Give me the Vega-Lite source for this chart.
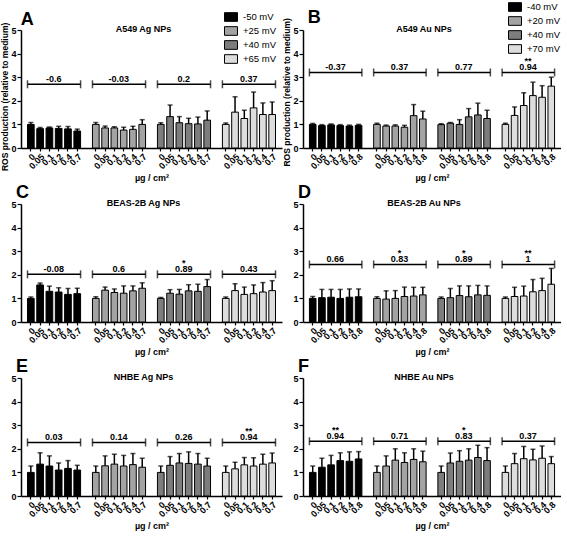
{
  "$schema": "https://vega.github.io/schema/vega-lite/v6.json",
  "padding": {"left": 1, "top": 2, "right": 0, "bottom": 0},
  "background": "white",
  "columns": 2,
  "spacing": {"row": 0, "column": 1},
  "resolve": {"scale": {"color": "independent"}, "legend": {"color": "independent"}},
  "config": {
    "view": {"stroke": null},
    "font": "Liberation Sans",
    "axis": {"domainColor": "#000", "domainWidth": 1.5, "tickColor": "#000", "tickWidth": 1.2, "labelColor": "#000", "labelFontWeight": "bold", "titleColor": "#000", "titleFontWeight": "bold", "grid": false, "labelFont": "Liberation Sans", "titleFont": "Liberation Sans"},
    "axisY": {"tickSize": 4, "labelFontSize": 9, "labelPadding": 1, "titleFontSize": 8.5, "titlePadding": 1, "labelOverlap": false, "labelFlush": false},
    "axisX": {"tickSize": 3, "labelFontSize": 9, "labelAngle": -45, "labelAlign": "right", "labelBaseline": "top", "labelPadding": 1, "titleFontSize": 9, "titlePadding": 3, "labelOverlap": false, "labelBound": false},
    "title": {"fontSize": 18, "fontWeight": "bold", "anchor": "start", "frame": "group", "color": "#000", "offset": -3, "font": "Liberation Sans"},
    "legend": {"orient": "none", "padding": 0, "symbolType": "M-1.5,-1H1.5V1H-1.5Z", "symbolSize": 75, "symbolStrokeColor": "#000", "symbolStrokeWidth": 1, "labelFontSize": 9.5, "labelFont": "Liberation Sans", "labelColor": "#000", "rowPadding": 0, "labelOffset": 7},
    "text": {"font": "Liberation Sans", "fontWeight": "bold", "fontSize": 9, "color": "#000"}
  },
  "datasets": {
    "bars": [
      {"p":"A","zeta":"-50 mV","slot":"1|0","value":1.0,"upper":1.08},
      {"p":"A","zeta":"-50 mV","slot":"1|0.05","value":0.82,"upper":0.87},
      {"p":"A","zeta":"-50 mV","slot":"1|0.1","value":0.85,"upper":0.89},
      {"p":"A","zeta":"-50 mV","slot":"1|0.2","value":0.83,"upper":0.92},
      {"p":"A","zeta":"-50 mV","slot":"1|0.4","value":0.81,"upper":0.91},
      {"p":"A","zeta":"-50 mV","slot":"1|0.7","value":0.72,"upper":0.8},
      {"p":"A","zeta":"+25 mV","slot":"2|0","value":1.0,"upper":1.08},
      {"p":"A","zeta":"+25 mV","slot":"2|0.05","value":0.85,"upper":0.93},
      {"p":"A","zeta":"+25 mV","slot":"2|0.1","value":0.85,"upper":0.9},
      {"p":"A","zeta":"+25 mV","slot":"2|0.2","value":0.76,"upper":0.88},
      {"p":"A","zeta":"+25 mV","slot":"2|0.4","value":0.79,"upper":0.92},
      {"p":"A","zeta":"+25 mV","slot":"2|0.7","value":1.0,"upper":1.2},
      {"p":"A","zeta":"+40 mV","slot":"3|0","value":1.0,"upper":1.07},
      {"p":"A","zeta":"+40 mV","slot":"3|0.05","value":1.33,"upper":1.82},
      {"p":"A","zeta":"+40 mV","slot":"3|0.1","value":1.07,"upper":1.33},
      {"p":"A","zeta":"+40 mV","slot":"3|0.2","value":1.03,"upper":1.26},
      {"p":"A","zeta":"+40 mV","slot":"3|0.4","value":1.02,"upper":1.31},
      {"p":"A","zeta":"+40 mV","slot":"3|0.7","value":1.18,"upper":1.57},
      {"p":"A","zeta":"+65 mV","slot":"4|0","value":1.0,"upper":1.06},
      {"p":"A","zeta":"+65 mV","slot":"4|0.05","value":1.52,"upper":2.17},
      {"p":"A","zeta":"+65 mV","slot":"4|0.1","value":1.25,"upper":1.6},
      {"p":"A","zeta":"+65 mV","slot":"4|0.2","value":1.7,"upper":2.37},
      {"p":"A","zeta":"+65 mV","slot":"4|0.4","value":1.42,"upper":1.91},
      {"p":"A","zeta":"+65 mV","slot":"4|0.7","value":1.42,"upper":1.95},

      {"p":"B","zeta":"-40 mV","slot":"1|0","value":1.0,"upper":1.04},
      {"p":"B","zeta":"-40 mV","slot":"1|0.05","value":0.95,"upper":0.99},
      {"p":"B","zeta":"-40 mV","slot":"1|0.1","value":0.98,"upper":1.02},
      {"p":"B","zeta":"-40 mV","slot":"1|0.2","value":0.95,"upper":0.99},
      {"p":"B","zeta":"-40 mV","slot":"1|0.4","value":0.93,"upper":0.97},
      {"p":"B","zeta":"-40 mV","slot":"1|0.8","value":0.96,"upper":1.0},
      {"p":"B","zeta":"+20 mV","slot":"2|0","value":1.0,"upper":1.05},
      {"p":"B","zeta":"+20 mV","slot":"2|0.05","value":0.93,"upper":0.97},
      {"p":"B","zeta":"+20 mV","slot":"2|0.1","value":0.93,"upper":0.98},
      {"p":"B","zeta":"+20 mV","slot":"2|0.2","value":0.88,"upper":0.96},
      {"p":"B","zeta":"+20 mV","slot":"2|0.4","value":1.37,"upper":1.84},
      {"p":"B","zeta":"+20 mV","slot":"2|0.8","value":1.23,"upper":1.56},
      {"p":"B","zeta":"+40 mV","slot":"3|0","value":0.99,"upper":1.03},
      {"p":"B","zeta":"+40 mV","slot":"3|0.05","value":1.05,"upper":1.08},
      {"p":"B","zeta":"+40 mV","slot":"3|0.1","value":1.0,"upper":1.2},
      {"p":"B","zeta":"+40 mV","slot":"3|0.2","value":1.32,"upper":1.67},
      {"p":"B","zeta":"+40 mV","slot":"3|0.4","value":1.4,"upper":1.9},
      {"p":"B","zeta":"+40 mV","slot":"3|0.8","value":1.25,"upper":1.6},
      {"p":"B","zeta":"+70 mV","slot":"4|0","value":1.0,"upper":1.05},
      {"p":"B","zeta":"+70 mV","slot":"4|0.05","value":1.38,"upper":1.74},
      {"p":"B","zeta":"+70 mV","slot":"4|0.1","value":1.8,"upper":2.34},
      {"p":"B","zeta":"+70 mV","slot":"4|0.2","value":2.22,"upper":2.79},
      {"p":"B","zeta":"+70 mV","slot":"4|0.4","value":2.15,"upper":2.64},
      {"p":"B","zeta":"+70 mV","slot":"4|0.8","value":2.62,"upper":3.0},

      {"p":"C","zeta":"-50 mV","slot":"1|0","value":1.0,"upper":1.06},
      {"p":"C","zeta":"-50 mV","slot":"1|0.05","value":1.57,"upper":1.65},
      {"p":"C","zeta":"-50 mV","slot":"1|0.1","value":1.3,"upper":1.52},
      {"p":"C","zeta":"-50 mV","slot":"1|0.2","value":1.27,"upper":1.45},
      {"p":"C","zeta":"-50 mV","slot":"1|0.4","value":1.17,"upper":1.42},
      {"p":"C","zeta":"-50 mV","slot":"1|0.7","value":1.2,"upper":1.43},
      {"p":"C","zeta":"+25 mV","slot":"2|0","value":1.0,"upper":1.07},
      {"p":"C","zeta":"+25 mV","slot":"2|0.05","value":1.35,"upper":1.48},
      {"p":"C","zeta":"+25 mV","slot":"2|0.1","value":1.25,"upper":1.4},
      {"p":"C","zeta":"+25 mV","slot":"2|0.2","value":1.22,"upper":1.53},
      {"p":"C","zeta":"+25 mV","slot":"2|0.4","value":1.32,"upper":1.53},
      {"p":"C","zeta":"+25 mV","slot":"2|0.7","value":1.43,"upper":1.66},
      {"p":"C","zeta":"+40 mV","slot":"3|0","value":1.0,"upper":1.04},
      {"p":"C","zeta":"+40 mV","slot":"3|0.05","value":1.22,"upper":1.37},
      {"p":"C","zeta":"+40 mV","slot":"3|0.1","value":1.18,"upper":1.38},
      {"p":"C","zeta":"+40 mV","slot":"3|0.2","value":1.32,"upper":1.58},
      {"p":"C","zeta":"+40 mV","slot":"3|0.4","value":1.3,"upper":1.6},
      {"p":"C","zeta":"+40 mV","slot":"3|0.7","value":1.5,"upper":1.8},
      {"p":"C","zeta":"+65 mV","slot":"4|0","value":1.0,"upper":1.06},
      {"p":"C","zeta":"+65 mV","slot":"4|0.05","value":1.33,"upper":1.62},
      {"p":"C","zeta":"+65 mV","slot":"4|0.1","value":1.17,"upper":1.48},
      {"p":"C","zeta":"+65 mV","slot":"4|0.2","value":1.2,"upper":1.57},
      {"p":"C","zeta":"+65 mV","slot":"4|0.4","value":1.27,"upper":1.67},
      {"p":"C","zeta":"+65 mV","slot":"4|0.7","value":1.33,"upper":1.75},

      {"p":"D","zeta":"-40 mV","slot":"1|0","value":1.0,"upper":1.08},
      {"p":"D","zeta":"-40 mV","slot":"1|0.05","value":1.03,"upper":1.38},
      {"p":"D","zeta":"-40 mV","slot":"1|0.1","value":1.05,"upper":1.38},
      {"p":"D","zeta":"-40 mV","slot":"1|0.2","value":1.0,"upper":1.38},
      {"p":"D","zeta":"-40 mV","slot":"1|0.4","value":1.05,"upper":1.4},
      {"p":"D","zeta":"-40 mV","slot":"1|0.8","value":1.07,"upper":1.4},
      {"p":"D","zeta":"+20 mV","slot":"2|0","value":1.0,"upper":1.07},
      {"p":"D","zeta":"+20 mV","slot":"2|0.05","value":0.97,"upper":1.32},
      {"p":"D","zeta":"+20 mV","slot":"2|0.1","value":1.0,"upper":1.33},
      {"p":"D","zeta":"+20 mV","slot":"2|0.2","value":1.08,"upper":1.48},
      {"p":"D","zeta":"+20 mV","slot":"2|0.4","value":1.1,"upper":1.47},
      {"p":"D","zeta":"+20 mV","slot":"2|0.8","value":1.15,"upper":1.47},
      {"p":"D","zeta":"+40 mV","slot":"3|0","value":1.0,"upper":1.06},
      {"p":"D","zeta":"+40 mV","slot":"3|0.05","value":1.03,"upper":1.42},
      {"p":"D","zeta":"+40 mV","slot":"3|0.1","value":1.12,"upper":1.53},
      {"p":"D","zeta":"+40 mV","slot":"3|0.2","value":1.07,"upper":1.53},
      {"p":"D","zeta":"+40 mV","slot":"3|0.4","value":1.15,"upper":1.55},
      {"p":"D","zeta":"+40 mV","slot":"3|0.8","value":1.13,"upper":1.53},
      {"p":"D","zeta":"+70 mV","slot":"4|0","value":1.0,"upper":1.06},
      {"p":"D","zeta":"+70 mV","slot":"4|0.05","value":1.08,"upper":1.47},
      {"p":"D","zeta":"+70 mV","slot":"4|0.1","value":1.1,"upper":1.52},
      {"p":"D","zeta":"+70 mV","slot":"4|0.2","value":1.28,"upper":1.8},
      {"p":"D","zeta":"+70 mV","slot":"4|0.4","value":1.33,"upper":1.85},
      {"p":"D","zeta":"+70 mV","slot":"4|0.8","value":1.6,"upper":2.27},

      {"p":"E","zeta":"-50 mV","slot":"1|0","value":1.0,"upper":1.27},
      {"p":"E","zeta":"-50 mV","slot":"1|0.05","value":1.35,"upper":1.83},
      {"p":"E","zeta":"-50 mV","slot":"1|0.1","value":1.27,"upper":1.7},
      {"p":"E","zeta":"-50 mV","slot":"1|0.2","value":1.1,"upper":1.4},
      {"p":"E","zeta":"-50 mV","slot":"1|0.4","value":1.17,"upper":1.5},
      {"p":"E","zeta":"-50 mV","slot":"1|0.7","value":1.1,"upper":1.3},
      {"p":"E","zeta":"+25 mV","slot":"2|0","value":1.0,"upper":1.27},
      {"p":"E","zeta":"+25 mV","slot":"2|0.05","value":1.28,"upper":1.7},
      {"p":"E","zeta":"+25 mV","slot":"2|0.1","value":1.35,"upper":1.77},
      {"p":"E","zeta":"+25 mV","slot":"2|0.2","value":1.27,"upper":1.72},
      {"p":"E","zeta":"+25 mV","slot":"2|0.4","value":1.33,"upper":1.8},
      {"p":"E","zeta":"+25 mV","slot":"2|0.7","value":1.22,"upper":1.6},
      {"p":"E","zeta":"+40 mV","slot":"3|0","value":1.0,"upper":1.27},
      {"p":"E","zeta":"+40 mV","slot":"3|0.05","value":1.3,"upper":1.67},
      {"p":"E","zeta":"+40 mV","slot":"3|0.1","value":1.4,"upper":1.8},
      {"p":"E","zeta":"+40 mV","slot":"3|0.2","value":1.38,"upper":1.87},
      {"p":"E","zeta":"+40 mV","slot":"3|0.4","value":1.35,"upper":1.8},
      {"p":"E","zeta":"+40 mV","slot":"3|0.7","value":1.27,"upper":1.6},
      {"p":"E","zeta":"+65 mV","slot":"4|0","value":1.0,"upper":1.27},
      {"p":"E","zeta":"+65 mV","slot":"4|0.05","value":1.15,"upper":1.43},
      {"p":"E","zeta":"+65 mV","slot":"4|0.1","value":1.32,"upper":1.63},
      {"p":"E","zeta":"+65 mV","slot":"4|0.2","value":1.27,"upper":1.62},
      {"p":"E","zeta":"+65 mV","slot":"4|0.4","value":1.35,"upper":1.77},
      {"p":"E","zeta":"+65 mV","slot":"4|0.7","value":1.4,"upper":1.82},

      {"p":"F","zeta":"-40 mV","slot":"1|0","value":1.0,"upper":1.27},
      {"p":"F","zeta":"-40 mV","slot":"1|0.05","value":1.22,"upper":1.6},
      {"p":"F","zeta":"-40 mV","slot":"1|0.1","value":1.32,"upper":1.72},
      {"p":"F","zeta":"-40 mV","slot":"1|0.2","value":1.5,"upper":1.83},
      {"p":"F","zeta":"-40 mV","slot":"1|0.4","value":1.47,"upper":1.87},
      {"p":"F","zeta":"-40 mV","slot":"1|0.8","value":1.57,"upper":1.88},
      {"p":"F","zeta":"+20 mV","slot":"2|0","value":1.0,"upper":1.27},
      {"p":"F","zeta":"+20 mV","slot":"2|0.05","value":1.27,"upper":1.7},
      {"p":"F","zeta":"+20 mV","slot":"2|0.1","value":1.52,"upper":2.0},
      {"p":"F","zeta":"+20 mV","slot":"2|0.2","value":1.42,"upper":1.83},
      {"p":"F","zeta":"+20 mV","slot":"2|0.4","value":1.55,"upper":2.0},
      {"p":"F","zeta":"+20 mV","slot":"2|0.8","value":1.45,"upper":1.9},
      {"p":"F","zeta":"+40 mV","slot":"3|0","value":1.0,"upper":1.27},
      {"p":"F","zeta":"+40 mV","slot":"3|0.05","value":1.4,"upper":1.82},
      {"p":"F","zeta":"+40 mV","slot":"3|0.1","value":1.47,"upper":1.92},
      {"p":"F","zeta":"+40 mV","slot":"3|0.2","value":1.52,"upper":2.0},
      {"p":"F","zeta":"+40 mV","slot":"3|0.4","value":1.63,"upper":2.15},
      {"p":"F","zeta":"+40 mV","slot":"3|0.8","value":1.5,"upper":2.05},
      {"p":"F","zeta":"+70 mV","slot":"4|0","value":1.0,"upper":1.27},
      {"p":"F","zeta":"+70 mV","slot":"4|0.05","value":1.37,"upper":1.8},
      {"p":"F","zeta":"+70 mV","slot":"4|0.1","value":1.58,"upper":2.1},
      {"p":"F","zeta":"+70 mV","slot":"4|0.2","value":1.53,"upper":1.98},
      {"p":"F","zeta":"+70 mV","slot":"4|0.4","value":1.6,"upper":2.12},
      {"p":"F","zeta":"+70 mV","slot":"4|0.8","value":1.37,"upper":1.67}
    ],
    "brackets": [
      {"p":"A","first":"1|0","mid":"1|0.1","last":"1|0.7","by":2.7,"r":"-0.6","sig":""},
      {"p":"A","first":"2|0","mid":"2|0.1","last":"2|0.7","by":2.7,"r":"-0.03","sig":""},
      {"p":"A","first":"3|0","mid":"3|0.1","last":"3|0.7","by":2.7,"r":"0.2","sig":""},
      {"p":"A","first":"4|0","mid":"4|0.1","last":"4|0.7","by":2.7,"r":"0.37","sig":""},
      {"p":"B","first":"1|0","mid":"1|0.1","last":"1|0.8","by":3.2,"r":"-0.37","sig":""},
      {"p":"B","first":"2|0","mid":"2|0.1","last":"2|0.8","by":3.2,"r":"0.37","sig":""},
      {"p":"B","first":"3|0","mid":"3|0.1","last":"3|0.8","by":3.2,"r":"0.77","sig":""},
      {"p":"B","first":"4|0","mid":"4|0.1","last":"4|0.8","by":3.2,"r":"0.94","sig":"**"},
      {"p":"C","first":"1|0","mid":"1|0.1","last":"1|0.7","by":2.02,"r":"-0.08","sig":""},
      {"p":"C","first":"2|0","mid":"2|0.1","last":"2|0.7","by":2.02,"r":"0.6","sig":""},
      {"p":"C","first":"3|0","mid":"3|0.1","last":"3|0.7","by":2.02,"r":"0.89","sig":"*"},
      {"p":"C","first":"4|0","mid":"4|0.1","last":"4|0.7","by":2.02,"r":"0.43","sig":""},
      {"p":"D","first":"1|0","mid":"1|0.1","last":"1|0.8","by":2.44,"r":"0.66","sig":""},
      {"p":"D","first":"2|0","mid":"2|0.1","last":"2|0.8","by":2.44,"r":"0.83","sig":"*"},
      {"p":"D","first":"3|0","mid":"3|0.1","last":"3|0.8","by":2.44,"r":"0.89","sig":"*"},
      {"p":"D","first":"4|0","mid":"4|0.1","last":"4|0.8","by":2.44,"r":"1","sig":"**"},
      {"p":"E","first":"1|0","mid":"1|0.1","last":"1|0.7","by":2.27,"r":"0.03","sig":""},
      {"p":"E","first":"2|0","mid":"2|0.1","last":"2|0.7","by":2.27,"r":"0.14","sig":""},
      {"p":"E","first":"3|0","mid":"3|0.1","last":"3|0.7","by":2.27,"r":"0.26","sig":""},
      {"p":"E","first":"4|0","mid":"4|0.1","last":"4|0.7","by":2.27,"r":"0.94","sig":"**"},
      {"p":"F","first":"1|0","mid":"1|0.1","last":"1|0.8","by":2.32,"r":"0.94","sig":"**"},
      {"p":"F","first":"2|0","mid":"2|0.1","last":"2|0.8","by":2.32,"r":"0.71","sig":""},
      {"p":"F","first":"3|0","mid":"3|0.1","last":"3|0.8","by":2.32,"r":"0.83","sig":"*"},
      {"p":"F","first":"4|0","mid":"4|0.1","last":"4|0.8","by":2.32,"r":"0.37","sig":""}
    ]
  },
  "concat": [
    {
      "width": 261, "height": 118,
      "title": {"text": "ROS production (relative to medium)", "orient": "left", "anchor": "middle", "frame": "bounds", "fontSize": 8.5, "offset": 1},
      "layer": [
        {"data": {"name": "bars"}, "transform": [{"filter": "datum.p === 'A'"}],
         "mark": {"type": "bar", "stroke": "#000", "strokeWidth": 1},
         "encoding": {
           "x": {"field": "slot", "type": "nominal", "scale": {"domain": ["1|0","1|0.05","1|0.1","1|0.2","1|0.4","1|0.7","g1","2|0","2|0.05","2|0.1","2|0.2","2|0.4","2|0.7","g2","3|0","3|0.05","3|0.1","3|0.2","3|0.4","3|0.7","g3","4|0","4|0.05","4|0.1","4|0.2","4|0.4","4|0.7"], "paddingInner": 0.28, "paddingOuter": 0.7},
                 "axis": {"title": "µg / cm²", "labelExpr": "indexof(datum.value,'|') >= 0 ? split(datum.value,'|')[1] : ''", "tickOpacity": {"condition": {"test": "indexof(datum.value,'|') < 0", "value": 0}, "value": 1}}},
           "y": {"field": "value", "type": "quantitative", "scale": {"domain": [0, 5], "nice": false}, "axis": {"tickCount": 6, "format": "d", "labelExpr": "datum.label", "labelAngle": 0, "labelAlign": "right", "labelBaseline": "middle", "labelColor": "#000", "labelFontSize": 9, "labelOverlap": false, "labels": true, "labelOpacity": 1, "labelBound": false, "zindex": 2, "title": null}},
           "color": {"field": "zeta", "type": "nominal", "scale": {"domain": ["-50 mV","+25 mV","+40 mV","+65 mV"], "range": ["#000000","#a3a3a3","#7d7d7d","#dddddd"]}, "legend": {"title": null, "legendX": 205, "legendY": -18}}
         }},
        {"data": {"name": "bars"}, "transform": [{"filter": "datum.p === 'A'"}],
         "mark": {"type": "rule", "strokeWidth": 1.5, "color": "#000"},
         "encoding": {"x": {"field": "slot", "type": "nominal"}, "y": {"field": "value", "type": "quantitative"}, "y2": {"field": "upper"}}},
        {"data": {"name": "bars"}, "transform": [{"filter": "datum.p === 'A'"}],
         "mark": {"type": "tick", "thickness": 1.5, "size": 5, "color": "#000"},
         "encoding": {"x": {"field": "slot", "type": "nominal"}, "y": {"field": "upper", "type": "quantitative"}}},
        {"data": {"name": "brackets"}, "transform": [{"filter": "datum.p === 'A'"}],
         "mark": {"type": "rule", "strokeWidth": 1.5, "color": "#000"},
         "encoding": {"x": {"field": "first", "type": "nominal", "bandPosition": 0}, "x2": {"field": "last", "bandPosition": 1}, "y": {"field": "by", "type": "quantitative"}}},
        {"data": {"name": "brackets"}, "transform": [{"filter": "datum.p === 'A'"}],
         "mark": {"type": "tick", "orient": "vertical", "thickness": 1.5, "size": 8, "color": "#000"},
         "encoding": {"x": {"field": "first", "type": "nominal", "bandPosition": 0}, "y": {"field": "by", "type": "quantitative"}}},
        {"data": {"name": "brackets"}, "transform": [{"filter": "datum.p === 'A'"}],
         "mark": {"type": "tick", "orient": "vertical", "thickness": 1.5, "size": 8, "color": "#000"},
         "encoding": {"x": {"field": "last", "type": "nominal", "bandPosition": 1}, "y": {"field": "by", "type": "quantitative"}}},
        {"data": {"name": "brackets"}, "transform": [{"filter": "datum.p === 'A'"}],
         "mark": {"type": "text", "baseline": "bottom", "dy": 0, "dx": 1},
         "encoding": {"x": {"field": "mid", "type": "nominal", "bandPosition": 1}, "y": {"field": "by", "type": "quantitative"}, "text": {"field": "r"}}},
        {"data": {"name": "brackets"}, "transform": [{"filter": "datum.p === 'A'"}],
         "mark": {"type": "text", "baseline": "bottom", "dy": -6, "dx": 1},
         "encoding": {"x": {"field": "mid", "type": "nominal", "bandPosition": 1}, "y": {"field": "by", "type": "quantitative"}, "text": {"field": "sig"}}},
        {"data": {"values": [{"name": "A549 Ag NPs"}]},
         "mark": {"type": "text", "baseline": "middle", "dx": -8},
         "encoding": {"x": {"datum": "g2"}, "y": {"datum": 5.05}, "text": {"field": "name"}}},
        {"data": {"values": [{"letter": "A"}]},
         "mark": {"type": "text", "fontSize": 18, "align": "left", "baseline": "alphabetic", "dx": -10, "dy": -5},
         "encoding": {"x": {"datum": "1|0"}, "y": {"datum": 5}, "text": {"field": "letter"}}}
      ]
    },
    {
      "width": 258, "height": 118,
      "title": {"text": "ROS production (relative to medium)", "orient": "left", "anchor": "middle", "frame": "bounds", "fontSize": 8.5, "offset": 1},
      "layer": [
        {"data": {"name": "bars"}, "transform": [{"filter": "datum.p === 'B'"}],
         "mark": {"type": "bar", "stroke": "#000", "strokeWidth": 1},
         "encoding": {
           "x": {"field": "slot", "type": "nominal", "scale": {"domain": ["1|0","1|0.05","1|0.1","1|0.2","1|0.4","1|0.8","g1","2|0","2|0.05","2|0.1","2|0.2","2|0.4","2|0.8","g2","3|0","3|0.05","3|0.1","3|0.2","3|0.4","3|0.8","g3","4|0","4|0.05","4|0.1","4|0.2","4|0.4","4|0.8"], "paddingInner": 0.28, "paddingOuter": 0.7},
                 "axis": {"title": "µg / cm²", "labelExpr": "indexof(datum.value,'|') >= 0 ? split(datum.value,'|')[1] : ''", "tickOpacity": {"condition": {"test": "indexof(datum.value,'|') < 0", "value": 0}, "value": 1}}},
           "y": {"field": "value", "type": "quantitative", "scale": {"domain": [0, 5], "nice": false}, "axis": {"tickCount": 6, "format": "d", "labelExpr": "datum.label", "labelAngle": 0, "labelAlign": "right", "labelBaseline": "middle", "labelColor": "#000", "labelFontSize": 9, "labelOverlap": false, "labels": true, "labelOpacity": 1, "labelBound": false, "zindex": 2, "title": null}},
           "color": {"field": "zeta", "type": "nominal", "scale": {"domain": ["-40 mV","+20 mV","+40 mV","+70 mV"], "range": ["#000000","#a3a3a3","#7d7d7d","#dddddd"]}, "legend": {"title": null, "legendX": 207, "legendY": -28}}
         }},
        {"data": {"name": "bars"}, "transform": [{"filter": "datum.p === 'B'"}],
         "mark": {"type": "rule", "strokeWidth": 1.5, "color": "#000"},
         "encoding": {"x": {"field": "slot", "type": "nominal"}, "y": {"field": "value", "type": "quantitative"}, "y2": {"field": "upper"}}},
        {"data": {"name": "bars"}, "transform": [{"filter": "datum.p === 'B'"}],
         "mark": {"type": "tick", "thickness": 1.5, "size": 5, "color": "#000"},
         "encoding": {"x": {"field": "slot", "type": "nominal"}, "y": {"field": "upper", "type": "quantitative"}}},
        {"data": {"name": "brackets"}, "transform": [{"filter": "datum.p === 'B'"}],
         "mark": {"type": "rule", "strokeWidth": 1.5, "color": "#000"},
         "encoding": {"x": {"field": "first", "type": "nominal", "bandPosition": 0}, "x2": {"field": "last", "bandPosition": 1}, "y": {"field": "by", "type": "quantitative"}}},
        {"data": {"name": "brackets"}, "transform": [{"filter": "datum.p === 'B'"}],
         "mark": {"type": "tick", "orient": "vertical", "thickness": 1.5, "size": 8, "color": "#000"},
         "encoding": {"x": {"field": "first", "type": "nominal", "bandPosition": 0}, "y": {"field": "by", "type": "quantitative"}}},
        {"data": {"name": "brackets"}, "transform": [{"filter": "datum.p === 'B'"}],
         "mark": {"type": "tick", "orient": "vertical", "thickness": 1.5, "size": 8, "color": "#000"},
         "encoding": {"x": {"field": "last", "type": "nominal", "bandPosition": 1}, "y": {"field": "by", "type": "quantitative"}}},
        {"data": {"name": "brackets"}, "transform": [{"filter": "datum.p === 'B'"}],
         "mark": {"type": "text", "baseline": "bottom", "dy": 0, "dx": 1},
         "encoding": {"x": {"field": "mid", "type": "nominal", "bandPosition": 1}, "y": {"field": "by", "type": "quantitative"}, "text": {"field": "r"}}},
        {"data": {"name": "brackets"}, "transform": [{"filter": "datum.p === 'B'"}],
         "mark": {"type": "text", "baseline": "bottom", "dy": -6, "dx": 1},
         "encoding": {"x": {"field": "mid", "type": "nominal", "bandPosition": 1}, "y": {"field": "by", "type": "quantitative"}, "text": {"field": "sig"}}},
        {"data": {"values": [{"name": "A549 Au  NPs"}]},
         "mark": {"type": "text", "baseline": "middle", "dx": -8},
         "encoding": {"x": {"datum": "g2"}, "y": {"datum": 5.05}, "text": {"field": "name"}}},
        {"data": {"values": [{"letter": "B"}]},
         "mark": {"type": "text", "fontSize": 18, "align": "left", "baseline": "alphabetic", "dx": -5, "dy": -7},
         "encoding": {"x": {"datum": "1|0"}, "y": {"datum": 5}, "text": {"field": "letter"}}}
      ]
    },
    {
      "width": 261, "height": 118,
      "title": {"text": "C", "dx": -5},
      "layer": [
        {"data": {"name": "bars"}, "transform": [{"filter": "datum.p === 'C'"}],
         "mark": {"type": "bar", "stroke": "#000", "strokeWidth": 1},
         "encoding": {
           "x": {"field": "slot", "type": "nominal", "scale": {"domain": ["1|0","1|0.05","1|0.1","1|0.2","1|0.4","1|0.7","g1","2|0","2|0.05","2|0.1","2|0.2","2|0.4","2|0.7","g2","3|0","3|0.05","3|0.1","3|0.2","3|0.4","3|0.7","g3","4|0","4|0.05","4|0.1","4|0.2","4|0.4","4|0.7"], "paddingInner": 0.28, "paddingOuter": 0.7},
                 "axis": {"title": "µg / cm²", "labelExpr": "indexof(datum.value,'|') >= 0 ? split(datum.value,'|')[1] : ''", "tickOpacity": {"condition": {"test": "indexof(datum.value,'|') < 0", "value": 0}, "value": 1}}},
           "y": {"field": "value", "type": "quantitative", "scale": {"domain": [0, 5], "nice": false}, "axis": {"tickCount": 6, "format": "d", "labelOverlap": false, "title": null}},
           "color": {"field": "zeta", "type": "nominal", "scale": {"domain": ["-50 mV","+25 mV","+40 mV","+65 mV"], "range": ["#000000","#a3a3a3","#7d7d7d","#dddddd"]}, "legend": null}
         }},
        {"data": {"name": "bars"}, "transform": [{"filter": "datum.p === 'C'"}],
         "mark": {"type": "rule", "strokeWidth": 1.5, "color": "#000"},
         "encoding": {"x": {"field": "slot", "type": "nominal"}, "y": {"field": "value", "type": "quantitative"}, "y2": {"field": "upper"}}},
        {"data": {"name": "bars"}, "transform": [{"filter": "datum.p === 'C'"}],
         "mark": {"type": "tick", "thickness": 1.5, "size": 5, "color": "#000"},
         "encoding": {"x": {"field": "slot", "type": "nominal"}, "y": {"field": "upper", "type": "quantitative"}}},
        {"data": {"name": "brackets"}, "transform": [{"filter": "datum.p === 'C'"}],
         "mark": {"type": "rule", "strokeWidth": 1.5, "color": "#000"},
         "encoding": {"x": {"field": "first", "type": "nominal", "bandPosition": 0}, "x2": {"field": "last", "bandPosition": 1}, "y": {"field": "by", "type": "quantitative"}}},
        {"data": {"name": "brackets"}, "transform": [{"filter": "datum.p === 'C'"}],
         "mark": {"type": "tick", "orient": "vertical", "thickness": 1.5, "size": 8, "color": "#000"},
         "encoding": {"x": {"field": "first", "type": "nominal", "bandPosition": 0}, "y": {"field": "by", "type": "quantitative"}}},
        {"data": {"name": "brackets"}, "transform": [{"filter": "datum.p === 'C'"}],
         "mark": {"type": "tick", "orient": "vertical", "thickness": 1.5, "size": 8, "color": "#000"},
         "encoding": {"x": {"field": "last", "type": "nominal", "bandPosition": 1}, "y": {"field": "by", "type": "quantitative"}}},
        {"data": {"name": "brackets"}, "transform": [{"filter": "datum.p === 'C'"}],
         "mark": {"type": "text", "baseline": "bottom", "dy": 0, "dx": 1},
         "encoding": {"x": {"field": "mid", "type": "nominal", "bandPosition": 1}, "y": {"field": "by", "type": "quantitative"}, "text": {"field": "r"}}},
        {"data": {"name": "brackets"}, "transform": [{"filter": "datum.p === 'C'"}],
         "mark": {"type": "text", "baseline": "bottom", "dy": -6, "dx": 1},
         "encoding": {"x": {"field": "mid", "type": "nominal", "bandPosition": 1}, "y": {"field": "by", "type": "quantitative"}, "text": {"field": "sig"}}},
        {"data": {"values": [{"name": "BEAS-2B Ag NPs"}]},
         "mark": {"type": "text", "baseline": "middle", "dx": -8},
         "encoding": {"x": {"datum": "g2"}, "y": {"datum": 5.05}, "text": {"field": "name"}}}
      ]
    },
    {
      "width": 258, "height": 118,
      "title": {"text": "D", "dx": -5},
      "layer": [
        {"data": {"name": "bars"}, "transform": [{"filter": "datum.p === 'D'"}],
         "mark": {"type": "bar", "stroke": "#000", "strokeWidth": 1},
         "encoding": {
           "x": {"field": "slot", "type": "nominal", "scale": {"domain": ["1|0","1|0.05","1|0.1","1|0.2","1|0.4","1|0.8","g1","2|0","2|0.05","2|0.1","2|0.2","2|0.4","2|0.8","g2","3|0","3|0.05","3|0.1","3|0.2","3|0.4","3|0.8","g3","4|0","4|0.05","4|0.1","4|0.2","4|0.4","4|0.8"], "paddingInner": 0.28, "paddingOuter": 0.7},
                 "axis": {"title": "µg / cm²", "labelExpr": "indexof(datum.value,'|') >= 0 ? split(datum.value,'|')[1] : ''", "tickOpacity": {"condition": {"test": "indexof(datum.value,'|') < 0", "value": 0}, "value": 1}}},
           "y": {"field": "value", "type": "quantitative", "scale": {"domain": [0, 5], "nice": false}, "axis": {"tickCount": 6, "format": "d", "labelOverlap": false, "title": null}},
           "color": {"field": "zeta", "type": "nominal", "scale": {"domain": ["-40 mV","+20 mV","+40 mV","+70 mV"], "range": ["#000000","#a3a3a3","#7d7d7d","#dddddd"]}, "legend": null}
         }},
        {"data": {"name": "bars"}, "transform": [{"filter": "datum.p === 'D'"}],
         "mark": {"type": "rule", "strokeWidth": 1.5, "color": "#000"},
         "encoding": {"x": {"field": "slot", "type": "nominal"}, "y": {"field": "value", "type": "quantitative"}, "y2": {"field": "upper"}}},
        {"data": {"name": "bars"}, "transform": [{"filter": "datum.p === 'D'"}],
         "mark": {"type": "tick", "thickness": 1.5, "size": 5, "color": "#000"},
         "encoding": {"x": {"field": "slot", "type": "nominal"}, "y": {"field": "upper", "type": "quantitative"}}},
        {"data": {"name": "brackets"}, "transform": [{"filter": "datum.p === 'D'"}],
         "mark": {"type": "rule", "strokeWidth": 1.5, "color": "#000"},
         "encoding": {"x": {"field": "first", "type": "nominal", "bandPosition": 0}, "x2": {"field": "last", "bandPosition": 1}, "y": {"field": "by", "type": "quantitative"}}},
        {"data": {"name": "brackets"}, "transform": [{"filter": "datum.p === 'D'"}],
         "mark": {"type": "tick", "orient": "vertical", "thickness": 1.5, "size": 8, "color": "#000"},
         "encoding": {"x": {"field": "first", "type": "nominal", "bandPosition": 0}, "y": {"field": "by", "type": "quantitative"}}},
        {"data": {"name": "brackets"}, "transform": [{"filter": "datum.p === 'D'"}],
         "mark": {"type": "tick", "orient": "vertical", "thickness": 1.5, "size": 8, "color": "#000"},
         "encoding": {"x": {"field": "last", "type": "nominal", "bandPosition": 1}, "y": {"field": "by", "type": "quantitative"}}},
        {"data": {"name": "brackets"}, "transform": [{"filter": "datum.p === 'D'"}],
         "mark": {"type": "text", "baseline": "bottom", "dy": 0, "dx": 1},
         "encoding": {"x": {"field": "mid", "type": "nominal", "bandPosition": 1}, "y": {"field": "by", "type": "quantitative"}, "text": {"field": "r"}}},
        {"data": {"name": "brackets"}, "transform": [{"filter": "datum.p === 'D'"}],
         "mark": {"type": "text", "baseline": "bottom", "dy": -6, "dx": 1},
         "encoding": {"x": {"field": "mid", "type": "nominal", "bandPosition": 1}, "y": {"field": "by", "type": "quantitative"}, "text": {"field": "sig"}}},
        {"data": {"values": [{"name": "BEAS-2B Au  NPs"}]},
         "mark": {"type": "text", "baseline": "middle", "dx": -8},
         "encoding": {"x": {"datum": "g2"}, "y": {"datum": 5.05}, "text": {"field": "name"}}}
      ]
    },
    {
      "width": 261, "height": 118,
      "title": {"text": "E", "dx": -5},
      "layer": [
        {"data": {"name": "bars"}, "transform": [{"filter": "datum.p === 'E'"}],
         "mark": {"type": "bar", "stroke": "#000", "strokeWidth": 1},
         "encoding": {
           "x": {"field": "slot", "type": "nominal", "scale": {"domain": ["1|0","1|0.05","1|0.1","1|0.2","1|0.4","1|0.7","g1","2|0","2|0.05","2|0.1","2|0.2","2|0.4","2|0.7","g2","3|0","3|0.05","3|0.1","3|0.2","3|0.4","3|0.7","g3","4|0","4|0.05","4|0.1","4|0.2","4|0.4","4|0.7"], "paddingInner": 0.28, "paddingOuter": 0.7},
                 "axis": {"title": "µg / cm²", "labelExpr": "indexof(datum.value,'|') >= 0 ? split(datum.value,'|')[1] : ''", "tickOpacity": {"condition": {"test": "indexof(datum.value,'|') < 0", "value": 0}, "value": 1}}},
           "y": {"field": "value", "type": "quantitative", "scale": {"domain": [0, 5], "nice": false}, "axis": {"tickCount": 6, "format": "d", "labelOverlap": false, "title": null}},
           "color": {"field": "zeta", "type": "nominal", "scale": {"domain": ["-50 mV","+25 mV","+40 mV","+65 mV"], "range": ["#000000","#a3a3a3","#7d7d7d","#dddddd"]}, "legend": null}
         }},
        {"data": {"name": "bars"}, "transform": [{"filter": "datum.p === 'E'"}],
         "mark": {"type": "rule", "strokeWidth": 1.5, "color": "#000"},
         "encoding": {"x": {"field": "slot", "type": "nominal"}, "y": {"field": "value", "type": "quantitative"}, "y2": {"field": "upper"}}},
        {"data": {"name": "bars"}, "transform": [{"filter": "datum.p === 'E'"}],
         "mark": {"type": "tick", "thickness": 1.5, "size": 5, "color": "#000"},
         "encoding": {"x": {"field": "slot", "type": "nominal"}, "y": {"field": "upper", "type": "quantitative"}}},
        {"data": {"name": "brackets"}, "transform": [{"filter": "datum.p === 'E'"}],
         "mark": {"type": "rule", "strokeWidth": 1.5, "color": "#000"},
         "encoding": {"x": {"field": "first", "type": "nominal", "bandPosition": 0}, "x2": {"field": "last", "bandPosition": 1}, "y": {"field": "by", "type": "quantitative"}}},
        {"data": {"name": "brackets"}, "transform": [{"filter": "datum.p === 'E'"}],
         "mark": {"type": "tick", "orient": "vertical", "thickness": 1.5, "size": 8, "color": "#000"},
         "encoding": {"x": {"field": "first", "type": "nominal", "bandPosition": 0}, "y": {"field": "by", "type": "quantitative"}}},
        {"data": {"name": "brackets"}, "transform": [{"filter": "datum.p === 'E'"}],
         "mark": {"type": "tick", "orient": "vertical", "thickness": 1.5, "size": 8, "color": "#000"},
         "encoding": {"x": {"field": "last", "type": "nominal", "bandPosition": 1}, "y": {"field": "by", "type": "quantitative"}}},
        {"data": {"name": "brackets"}, "transform": [{"filter": "datum.p === 'E'"}],
         "mark": {"type": "text", "baseline": "bottom", "dy": 0, "dx": 1},
         "encoding": {"x": {"field": "mid", "type": "nominal", "bandPosition": 1}, "y": {"field": "by", "type": "quantitative"}, "text": {"field": "r"}}},
        {"data": {"name": "brackets"}, "transform": [{"filter": "datum.p === 'E'"}],
         "mark": {"type": "text", "baseline": "bottom", "dy": -6, "dx": 1},
         "encoding": {"x": {"field": "mid", "type": "nominal", "bandPosition": 1}, "y": {"field": "by", "type": "quantitative"}, "text": {"field": "sig"}}},
        {"data": {"values": [{"name": "NHBE Ag  NPs"}]},
         "mark": {"type": "text", "baseline": "middle", "dx": -8},
         "encoding": {"x": {"datum": "g2"}, "y": {"datum": 5.05}, "text": {"field": "name"}}}
      ]
    },
    {
      "width": 258, "height": 118,
      "title": {"text": "F", "dx": -5},
      "layer": [
        {"data": {"name": "bars"}, "transform": [{"filter": "datum.p === 'F'"}],
         "mark": {"type": "bar", "stroke": "#000", "strokeWidth": 1},
         "encoding": {
           "x": {"field": "slot", "type": "nominal", "scale": {"domain": ["1|0","1|0.05","1|0.1","1|0.2","1|0.4","1|0.8","g1","2|0","2|0.05","2|0.1","2|0.2","2|0.4","2|0.8","g2","3|0","3|0.05","3|0.1","3|0.2","3|0.4","3|0.8","g3","4|0","4|0.05","4|0.1","4|0.2","4|0.4","4|0.8"], "paddingInner": 0.28, "paddingOuter": 0.7},
                 "axis": {"title": "µg / cm²", "labelExpr": "indexof(datum.value,'|') >= 0 ? split(datum.value,'|')[1] : ''", "tickOpacity": {"condition": {"test": "indexof(datum.value,'|') < 0", "value": 0}, "value": 1}}},
           "y": {"field": "value", "type": "quantitative", "scale": {"domain": [0, 5], "nice": false}, "axis": {"tickCount": 6, "format": "d", "labelOverlap": false, "title": null}},
           "color": {"field": "zeta", "type": "nominal", "scale": {"domain": ["-40 mV","+20 mV","+40 mV","+70 mV"], "range": ["#000000","#a3a3a3","#7d7d7d","#dddddd"]}, "legend": null}
         }},
        {"data": {"name": "bars"}, "transform": [{"filter": "datum.p === 'F'"}],
         "mark": {"type": "rule", "strokeWidth": 1.5, "color": "#000"},
         "encoding": {"x": {"field": "slot", "type": "nominal"}, "y": {"field": "value", "type": "quantitative"}, "y2": {"field": "upper"}}},
        {"data": {"name": "bars"}, "transform": [{"filter": "datum.p === 'F'"}],
         "mark": {"type": "tick", "thickness": 1.5, "size": 5, "color": "#000"},
         "encoding": {"x": {"field": "slot", "type": "nominal"}, "y": {"field": "upper", "type": "quantitative"}}},
        {"data": {"name": "brackets"}, "transform": [{"filter": "datum.p === 'F'"}],
         "mark": {"type": "rule", "strokeWidth": 1.5, "color": "#000"},
         "encoding": {"x": {"field": "first", "type": "nominal", "bandPosition": 0}, "x2": {"field": "last", "bandPosition": 1}, "y": {"field": "by", "type": "quantitative"}}},
        {"data": {"name": "brackets"}, "transform": [{"filter": "datum.p === 'F'"}],
         "mark": {"type": "tick", "orient": "vertical", "thickness": 1.5, "size": 8, "color": "#000"},
         "encoding": {"x": {"field": "first", "type": "nominal", "bandPosition": 0}, "y": {"field": "by", "type": "quantitative"}}},
        {"data": {"name": "brackets"}, "transform": [{"filter": "datum.p === 'F'"}],
         "mark": {"type": "tick", "orient": "vertical", "thickness": 1.5, "size": 8, "color": "#000"},
         "encoding": {"x": {"field": "last", "type": "nominal", "bandPosition": 1}, "y": {"field": "by", "type": "quantitative"}}},
        {"data": {"name": "brackets"}, "transform": [{"filter": "datum.p === 'F'"}],
         "mark": {"type": "text", "baseline": "bottom", "dy": 0, "dx": 1},
         "encoding": {"x": {"field": "mid", "type": "nominal", "bandPosition": 1}, "y": {"field": "by", "type": "quantitative"}, "text": {"field": "r"}}},
        {"data": {"name": "brackets"}, "transform": [{"filter": "datum.p === 'F'"}],
         "mark": {"type": "text", "baseline": "bottom", "dy": -6, "dx": 1},
         "encoding": {"x": {"field": "mid", "type": "nominal", "bandPosition": 1}, "y": {"field": "by", "type": "quantitative"}, "text": {"field": "sig"}}},
        {"data": {"values": [{"name": "NHBE Au  NPs"}]},
         "mark": {"type": "text", "baseline": "middle", "dx": -8},
         "encoding": {"x": {"datum": "g2"}, "y": {"datum": 5.05}, "text": {"field": "name"}}}
      ]
    }
  ]
}
